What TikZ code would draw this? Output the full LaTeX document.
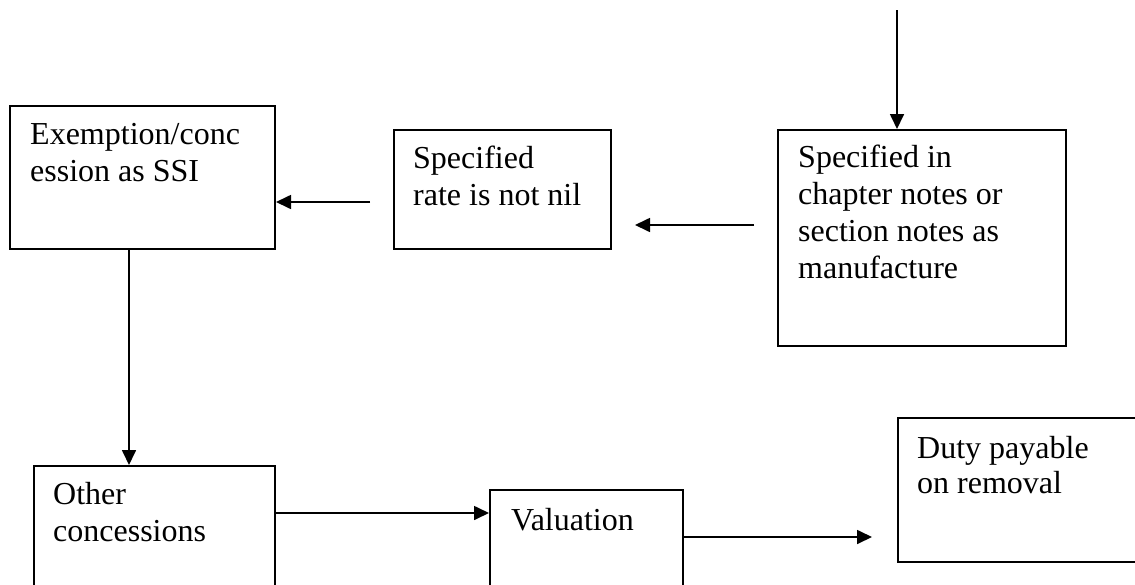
\documentclass[tikz,border=0pt]{standalone}
\usepackage{fontspec}
\setmainfont{Liberation Serif}
\usetikzlibrary{arrows.meta}
\begin{document}
\begin{tikzpicture}[x=1pt,y=-1pt,
  box/.style={draw=black, line width=2pt, rectangle, inner sep=0pt, anchor=north west},
  txt/.style={anchor=base west, inner sep=0pt, font=\fontsize{32}{37}\selectfont},
  conn/.style={line width=1.7pt, -{Triangle[length=15pt,width=14pt]}}]
\useasboundingbox (0,0) rectangle (1135,584);
% boxes
\node[box, minimum width=265pt, minimum height=143pt] (b1) at (9,105) {};
\node[box, minimum width=217pt, minimum height=119pt] (b2) at (393,129) {};
\node[box, minimum width=288pt, minimum height=216pt] (b3) at (777,129) {};
\node[box, minimum width=241pt, minimum height=130pt] (b4) at (33,465) {};
\node[box, minimum width=193pt, minimum height=110pt] (b5) at (489,489) {};
\node[box, minimum width=250pt, minimum height=144pt] (b6) at (897,417) {};
% texts
\node[txt] (t1a) at (30,144) {Exemption/conc};
\node[txt] (t1b) at (30,181) {ession as SSI};
\node[txt] (t2a) at (413,168) {Specified};
\node[txt] (t2b) at (413,205) {rate is not nil};
\node[txt] (t3a) at (798,167) {Specified in};
\node[txt] (t3b) at (798,204) {chapter notes or};
\node[txt] (t3c) at (798,241) {section notes as};
\node[txt] (t3d) at (798,278) {manufacture};
\node[txt] (t4a) at (53,504) {Other};
\node[txt] (t4b) at (53,541) {concessions};
\node[txt] (t5a) at (511,530) {Valuation};
\node[txt] (t6a) at (917,458) {Duty payable};
\node[txt] (t6b) at (917,493) {on removal};
% connector ends
\coordinate (top) at (897,10);
\coordinate (a2s) at (754,225);
\coordinate (a2e) at (635,225);
\coordinate (a1s) at (370,202);
\coordinate (dn) at (129,248);
\coordinate (r1) at (274,513);
\coordinate (r2s) at (682,537);
\coordinate (r2e) at (872,537);
% connectors
\draw[conn] (top) -- (top |- b3.north);
\draw[conn] (a2s) -- (a2e);
\draw[conn] (a1s) -- (a1s -| b1.east);
\draw[conn] (dn) -- (dn |- b4.north);
\draw[conn] (r1) -- (r1 -| b5.west);
\draw[conn] (r2s) -- (r2e);
\end{tikzpicture}
\end{document}
